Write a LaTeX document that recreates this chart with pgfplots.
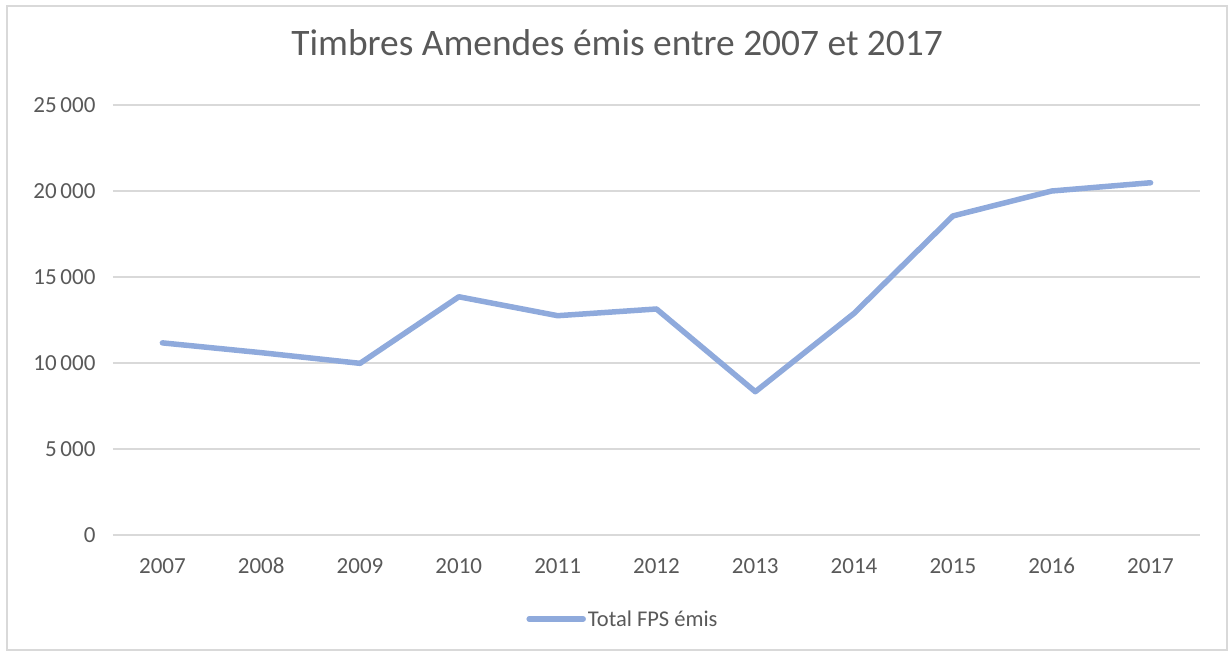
\documentclass[border=0pt]{standalone}
\usepackage{pgfplots}
\pgfplotsset{compat=1.18}
\usepackage{fontspec}
\setmainfont{Carlito}
\definecolor{linecol}{HTML}{8FAADC}
\definecolor{txtcol}{HTML}{595959}
\definecolor{gridcol}{HTML}{D9D9D9}
\begin{document}
\begin{tikzpicture}[x=1pt,y=1pt]
\useasboundingbox (-113,-120) rectangle (1116,535);
\draw[gridcol, line width=1.2pt] (-106,-115) rectangle (1114,529);
\begin{axis}[
  at={(0,0)}, anchor=south west,
  scale only axis, width=1087pt, height=430pt,
  xmin=2006.5, xmax=2017.5, ymin=0, ymax=25000,
  scaled y ticks=false,
  xtick={2007,...,2017},
  xticklabels={2007,2008,2009,2010,2011,2012,2013,2014,2015,2016,2017},
  ytick={0,5000,10000,15000,20000,25000},
  yticklabels={0,5\,000,10\,000,15\,000,20\,000,25\,000},
  axis line style={draw=none},
  major tick length=0pt,
  ymajorgrids, grid style={gridcol, line width=1.5pt},
  tick label style={font=\fontsize{23}{26}\selectfont, text=txtcol},
  yticklabel style={anchor=east, xshift=-14pt},
  xticklabel style={anchor=center, yshift=-31pt},
  title={Timbres Amendes émis entre 2007 et 2017},
  title style={at={(axis description cs:0.4637,1.1)}, anchor=base, font=\fontsize{37.4}{40}\selectfont, text=txtcol},
  legend style={at={(axis description cs:0.4692,-0.1953)}, anchor=center, draw=none, fill=none, font=\fontsize{22.5}{25}\selectfont, text=txtcol, inner sep=0pt},
  legend image code/.code={\draw[linecol, line width=5.5pt, line cap=round] (0pt,0pt) -- (54pt,0pt);},
  legend cell align=left,
]
\addplot[linecol, line width=5.5pt, line cap=round, line join=round] coordinates {
(2007,11170) (2008,10600) (2009,9980) (2010,13850) (2011,12750) (2012,13140)
(2013,8330) (2014,12890) (2015,18550) (2016,20000) (2017,20480)};
\addlegendentry{Total FPS émis}
\end{axis}
\end{tikzpicture}
\end{document}
